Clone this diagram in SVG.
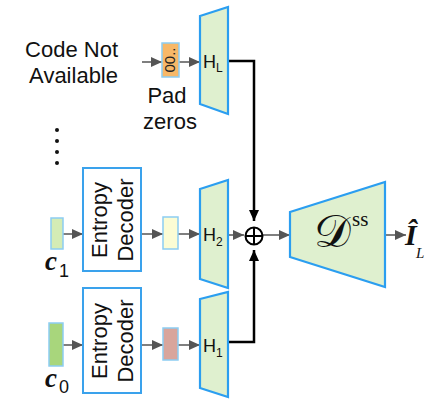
<svg xmlns="http://www.w3.org/2000/svg" width="430" height="412" viewBox="0 0 430 412">
<defs>
<marker id="ag" markerUnits="userSpaceOnUse" markerWidth="11" markerHeight="10" refX="11" refY="5" orient="auto"><path d="M0,0 L11,5 L0,10 z" fill="#555"/></marker>
<marker id="ab" markerUnits="userSpaceOnUse" markerWidth="11" markerHeight="10" refX="11" refY="5" orient="auto"><path d="M0,0 L11,5 L0,10 z" fill="#000"/></marker>
</defs>
<style>
.lbl{font-family:"Liberation Sans",Arial,sans-serif;font-size:22px;fill:#111}
.trap{fill:#dff0cf;stroke:#2b9ef0;stroke-width:2.2}
.ed{fill:#fff;stroke:#3aa2ec;stroke-width:2}
.small{stroke:#8ccdf2;stroke-width:1.5}
.g{stroke:#555;stroke-width:1.5;fill:none;marker-end:url(#ag)}
.b{stroke:#000;stroke-width:2.5;fill:none;marker-end:url(#ab)}
.h{font-family:"Liberation Sans",Arial,sans-serif;font-size:18px;fill:#111}
.cv{font-family:"Liberation Serif","Times New Roman",serif;font-style:italic;font-weight:bold;font-size:27px;fill:#111}
.cs{font-family:"Liberation Sans",Arial,sans-serif;font-size:18px;fill:#111}
</style>
<g id="connectors">
<path class="g" d="M142,62 H162"/>
<path class="g" d="M179,62 H200"/>
<path class="g" d="M63,234 H83"/>
<path class="g" d="M141,234 H163"/>
<path class="g" d="M178,234 H200"/>
<path class="g" d="M228,235 H244"/>
<path class="g" d="M263,235 H290"/>
<path class="g" d="M385,235 H406"/>
<path class="g" d="M63,345 H83"/>
<path class="g" d="M141,345 H163"/>
<path class="g" d="M178,345 H200"/>
<path class="b" d="M228,61 H254 V221"/>
<path class="b" d="M228,342 H254 V250"/>
</g>
<g id="code-not-available">
<text class="lbl" x="118" y="57" text-anchor="end">Code Not</text>
<text class="lbl" x="118" y="83" text-anchor="end">Available</text>
</g>
<g id="pad-zeros">
<rect x="162" y="43" width="17" height="34" fill="#f7b868" class="small"/>
<text transform="translate(175,60) rotate(-90)" text-anchor="middle" font-family="Liberation Sans,Arial,sans-serif" font-size="15" fill="#222">00..</text>
<text class="lbl" x="167" y="103" text-anchor="middle">Pad</text>
<text class="lbl" x="170" y="129" text-anchor="middle">zeros</text>
</g>
<g id="dots" fill="#111">
<circle cx="57" cy="130" r="2"/><circle cx="57" cy="141" r="2"/><circle cx="57" cy="152" r="2"/><circle cx="57" cy="163" r="2"/>
</g>
<g id="HL">
<polygon class="trap" points="200,16 228,7 228,114 200,104"/>
<text class="h" x="203" y="68">H<tspan font-size="12" dy="4">L</tspan></text>
</g>
<g id="c1">
<rect x="51" y="218" width="12" height="31" fill="#d4ecb5" class="small"/>
<text class="cv" x="45" y="270">c</text>
<text class="cs" x="59" y="277">1</text>
</g>
<g id="entropy-decoder-1">
<rect class="ed" x="83" y="168" width="58" height="103"/>
<text class="lbl" transform="translate(112,220) rotate(-90)" text-anchor="middle"><tspan x="0" y="-5">Entropy</tspan><tspan x="0" y="21">Decoder</tspan></text>
</g>
<g id="yellow-box">
<rect x="163" y="217" width="15" height="32" fill="#fbfcd4" class="small"/>
</g>
<g id="H2">
<polygon class="trap" points="200,189 228,180 228,288 200,279"/>
<text class="h" x="203" y="241">H<tspan font-size="12" dy="5">2</tspan></text>
</g>
<g id="c0">
<rect x="49" y="323" width="14" height="43" fill="#a8d67c" class="small"/>
<text class="cv" x="45" y="387">c</text>
<text class="cs" x="59" y="393">0</text>
</g>
<g id="entropy-decoder-0">
<rect class="ed" x="83" y="288" width="58" height="105"/>
<text class="lbl" transform="translate(112,341) rotate(-90)" text-anchor="middle"><tspan x="0" y="-5">Entropy</tspan><tspan x="0" y="21">Decoder</tspan></text>
</g>
<g id="pink-box">
<rect x="163" y="328" width="15" height="32" fill="#d8a59c" class="small"/>
</g>
<g id="H1">
<polygon class="trap" points="200,299 228,292 228,397 200,388"/>
<text class="h" x="203" y="352">H<tspan font-size="12" dy="5">1</tspan></text>
</g>
<g id="sum">
<circle cx="254" cy="236" r="8.5" fill="#fff" stroke="#000" stroke-width="2"/>
<path d="M245.5,236 H262.5 M254,227.5 V244.5" stroke="#000" stroke-width="2"/>
</g>
<g id="Dss">
<polygon class="trap" points="290,212 385,182 385,287 290,257"/>
<text x="314" y="247" font-family="DejaVu Serif,Liberation Serif,serif" font-size="46" fill="#111">𝒟</text>
<text x="352" y="226" font-family="Liberation Serif,serif" font-size="21" fill="#111">ss</text>
</g>
<g id="output">
<text x="405" y="245" font-family="Liberation Serif,serif" font-style="italic" font-weight="bold" font-size="30" fill="#111">Î</text>
<text x="416" y="258" font-family="Liberation Serif,serif" font-style="italic" font-size="15" fill="#111">L</text>
</g>
</svg>
